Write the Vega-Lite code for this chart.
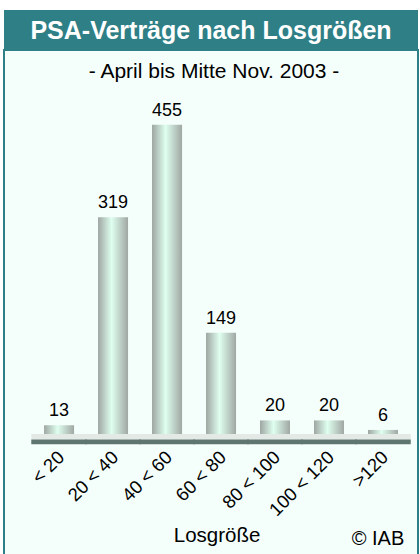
{
  "$schema": "https://vega.github.io/schema/vega-lite/v6.json",
  "background": "#ffffff",
  "padding": {"left": 3, "top": 10, "right": 3, "bottom": 0},
  "spacing": 0,
  "config": {
    "font": "Liberation Sans",
    "text": {"font": "Liberation Sans"}
  },
  "datasets": {
    "lose": [
      {"k": "< 20", "v": 13},
      {"k": "20 < 40", "v": 319},
      {"k": "40 < 60", "v": 455},
      {"k": "60 < 80", "v": 149},
      {"k": "80 < 100", "v": 20},
      {"k": "100 < 120", "v": 20},
      {"k": ">120", "v": 6}
    ]
  },
  "vconcat": [
    {
      "width": 414,
      "height": 39,
      "view": {"fill": "#2E7F86", "stroke": null},
      "data": {"values": [{"t": "PSA-Verträge nach Losgrößen"}]},
      "mark": {"type": "text", "color": "#ffffff", "fontSize": 25, "fontWeight": "bold", "font": "Liberation Sans", "dy": 1},
      "encoding": {"text": {"field": "t", "type": "nominal"}}
    },
    {
      "width": 414,
      "height": 505,
      "view": {"fill": "#F4FFFB", "stroke": "#2E7F86", "strokeWidth": 2},
      "encoding": {
        "x": {
          "field": "k",
          "type": "nominal",
          "axis": null,
          "scale": {
            "domain": ["< 20", "20 < 40", "40 < 60", "60 < 80", "80 < 100", "100 < 120", ">120"],
            "paddingInner": 0.444,
            "paddingOuter": 0.556,
            "align": 0.667
          }
        }
      },
      "layer": [
        {
          "data": {"name": "lose"},
          "mark": {"type": "bar", "width": {"band": 1.85}, "color": "#E3EAE6"},
          "encoding": {
            "y": {"datum": 0, "type": "quantitative", "axis": null, "scale": {"domain": [-178, 565], "nice": false, "zero": false}},
            "y2": {"datum": -8}
          }
        },
        {
          "data": {"name": "lose"},
          "mark": {"type": "bar", "width": {"band": 1.85}, "color": "#5F756F"},
          "encoding": {
            "y": {"datum": -8, "type": "quantitative", "axis": null},
            "y2": {"datum": -15}
          }
        },
        {
          "data": {"name": "lose"},
          "mark": {
            "type": "bar",
            "color": {
              "gradient": "linear",
              "x1": 0, "y1": 0, "x2": 1, "y2": 0,
              "stops": [
                {"offset": 0, "color": "#9EA6A2"},
                {"offset": 0.45, "color": "#DFFFF0"},
                {"offset": 1, "color": "#A0A7A3"}
              ]
            }
          },
          "encoding": {
            "y": {"field": "v", "type": "quantitative", "axis": null}
          }
        },
        {
          "data": {"name": "lose"},
          "mark": {"type": "text", "baseline": "bottom", "dy": -5, "fontSize": 18, "color": "#000000"},
          "encoding": {
            "y": {"field": "v", "type": "quantitative", "axis": null},
            "text": {"field": "v", "type": "quantitative"}
          }
        },
        {
          "data": {"name": "lose"},
          "mark": {"type": "text", "angle": 315, "align": "right", "baseline": "middle", "dx": 3, "fontSize": 18.5, "color": "#000000"},
          "encoding": {
            "y": {"datum": -33, "type": "quantitative", "axis": null},
            "text": {"field": "k", "type": "nominal"}
          }
        },
        {
          "data": {"values": [{"t": "- April bis Mitte Nov. 2003 -"}]},
          "mark": {"type": "text", "baseline": "middle", "dx": -7, "fontSize": 21, "color": "#000000"},
          "encoding": {
            "x": {"datum": "60 < 80", "type": "nominal"},
            "y": {"datum": 533, "type": "quantitative", "axis": null},
            "text": {"field": "t", "type": "nominal"}
          }
        },
        {
          "data": {"values": [{"t": "Losgröße"}]},
          "mark": {"type": "text", "baseline": "middle", "dx": -4, "fontSize": 20.5, "color": "#000000"},
          "encoding": {
            "x": {"datum": "60 < 80", "type": "nominal"},
            "y": {"datum": -150, "type": "quantitative", "axis": null},
            "text": {"field": "t", "type": "nominal"}
          }
        },
        {
          "data": {"values": [{"t": "© IAB"}]},
          "mark": {"type": "text", "baseline": "middle", "dx": -5, "fontSize": 20, "color": "#000000"},
          "encoding": {
            "x": {"datum": ">120", "type": "nominal"},
            "y": {"datum": -154, "type": "quantitative", "axis": null},
            "text": {"field": "t", "type": "nominal"}
          }
        }
      ]
    }
  ]
}
